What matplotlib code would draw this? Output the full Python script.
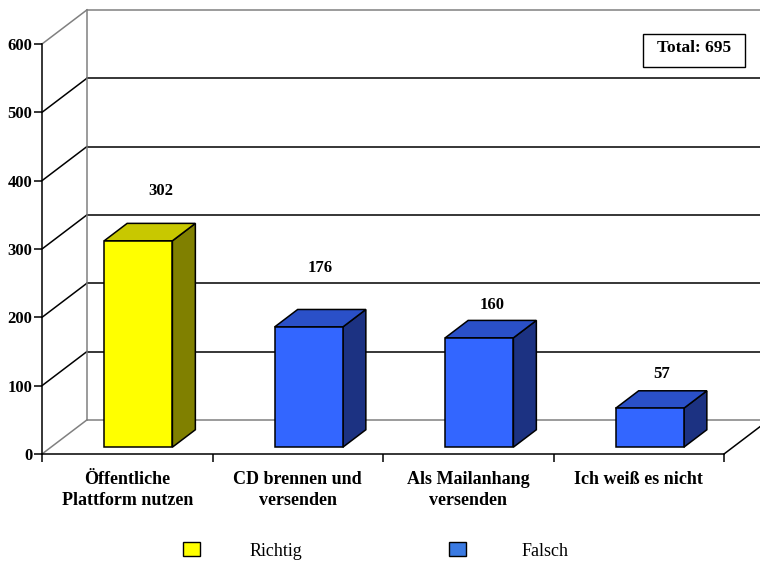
import matplotlib
matplotlib.use("Agg")
import matplotlib.pyplot as plt
from matplotlib.patches import Polygon, Rectangle

# --- data -------------------------------------------------------------
categories = ["Öffentliche\nPlattform nutzen", "CD brennen und\nversenden",
              "Als Mailanhang\nversenden", "Ich weiß es nicht"]
values = [302, 176, 160, 57]
is_correct = [True, False, False, False]
y_ticks = [0, 100, 200, 300, 400, 500, 600]
legend_labels = ["Richtig", "Falsch"]
total_label = "Total: 695"

# --- style ------------------------------------------------------------
FONT = "Liberation Serif"
plt.rcParams["font.family"] = [FONT, "DejaVu Serif"]

W, H = 760, 562
DX, DY = 0.264, 50.0          # full depth of the 3-D box in data units
F0, F1 = 0.20, 0.71           # front/back depth fraction of the bars
BAR_W = 0.40
BAR_SHIFT = 0.012
GRID = "black"
EDGE_GRAY = "#808080"
LW = 1.1

face = {True: ("#FFFF00", "#C8C800", "#808000"),
        False: ("#3366FF", "#2A50C8", "#1C3282")}
legend_colors = ["#FFFF00", "#3A7AE2"]
label_nudge = [(8, 23), (0, 30), (1, 11), (0, 12)]   # points

fig = plt.figure(figsize=(W / 100, H / 100), dpi=100)
ax = fig.add_axes([42 / W, (H - 454) / H, 682 / W, 410 / H])
ax.set_xlim(0, 4)
ax.set_ylim(0, 600)
n = len(categories)

# walls: side-wall diagonals and back-wall gridlines
for t in y_ticks:
    col = EDGE_GRAY if t in (0, 600) else GRID
    ax.plot([0, DX], [t, t + DY], color=col, lw=LW, clip_on=False, zorder=1)
    ax.plot([DX, n + DX], [t + DY, t + DY], color=col, lw=LW,
            clip_on=False, zorder=1)
ax.plot([DX, DX], [DY, 600 + DY], color=EDGE_GRAY, lw=LW,
        clip_on=False, zorder=1)
# right edge of the floor
ax.plot([n, n + DX], [0, DY], color="black", lw=LW, clip_on=False, zorder=2)

# 3-D bars
for i, (v, ok) in enumerate(zip(values, is_correct)):
    front_c, top_c, side_c = face[ok]
    xc = i + 0.5 + F0 * DX + BAR_SHIFT
    xl, xr = xc - BAR_W / 2, xc + BAR_W / 2
    yb, yt = F0 * DY, v + F0 * DY
    ddx, ddy = (F1 - F0) * DX, (F1 - F0) * DY
    kw = dict(edgecolor="black", lw=LW, joinstyle="miter",
              clip_on=False, zorder=3)
    ax.add_patch(Polygon([(xr, yb), (xr + ddx, yb + ddy), (xr + ddx, yt + ddy),
                          (xr, yt)], facecolor=side_c, **kw))
    ax.add_patch(Polygon([(xl, yt), (xr, yt), (xr + ddx, yt + ddy),
                          (xl + ddx, yt + ddy)], facecolor=top_c, **kw))
    ax.add_patch(Polygon([(xl, yb), (xr, yb), (xr, yt), (xl, yt)],
                         facecolor=front_c, **kw))
    ax.annotate(f"{v}", xy=(xc + ddx / 2, yt + ddy),
                xytext=label_nudge[i], textcoords="offset points",
                ha="center", va="center", fontsize=12, fontweight="bold",
                annotation_clip=False, zorder=4)

# axes, ticks and labels
for s in ("top", "right"):
    ax.spines[s].set_visible(False)
for s in ("left", "bottom"):
    ax.spines[s].set_color("black")
    ax.spines[s].set_linewidth(LW)
    ax.spines[s].set_zorder(5)
ax.patch.set_visible(False)

ax.set_yticks(y_ticks)
ax.set_yticklabels([str(t) for t in y_ticks], fontsize=12, fontweight="bold")
ax.tick_params(axis="y", direction="out", length=5.5, width=LW, pad=1.5)

ax.set_xticks(range(n + 1))
ax.set_xticklabels([])
ax.tick_params(axis="x", which="major", direction="out", length=6, width=LW)
ax.set_xticks([i + 0.5 for i in range(n)], minor=True)
ax.set_xticklabels(categories, minor=True, fontsize=13, fontweight="bold",
                   linespacing=1.3)
ax.tick_params(axis="x", which="minor", length=0, pad=12)

# total box
fig.add_artist(Rectangle((643 / W, 1 - 67 / H), 102 / W, 33 / H,
                         transform=fig.transFigure, facecolor="white",
                         edgecolor="black", lw=1.0))
fig.text(694 / W, 1 - 47.5 / H, total_label, ha="center", va="center",
         fontsize=12.5, fontweight="bold")

# legend
for k, (lab, col) in enumerate(zip(legend_labels, legend_colors)):
    x0 = [183, 449][k]
    fig.add_artist(Rectangle((x0 / W, 1 - 556 / H), 17 / W, 14 / H,
                             transform=fig.transFigure, facecolor=col,
                             edgecolor="black", lw=1.0))
    fig.text([250, 522][k] / W, 1 - 551 / H, lab, ha="left", va="center",
             fontsize=13)

fig.savefig("out.png", dpi=100)
